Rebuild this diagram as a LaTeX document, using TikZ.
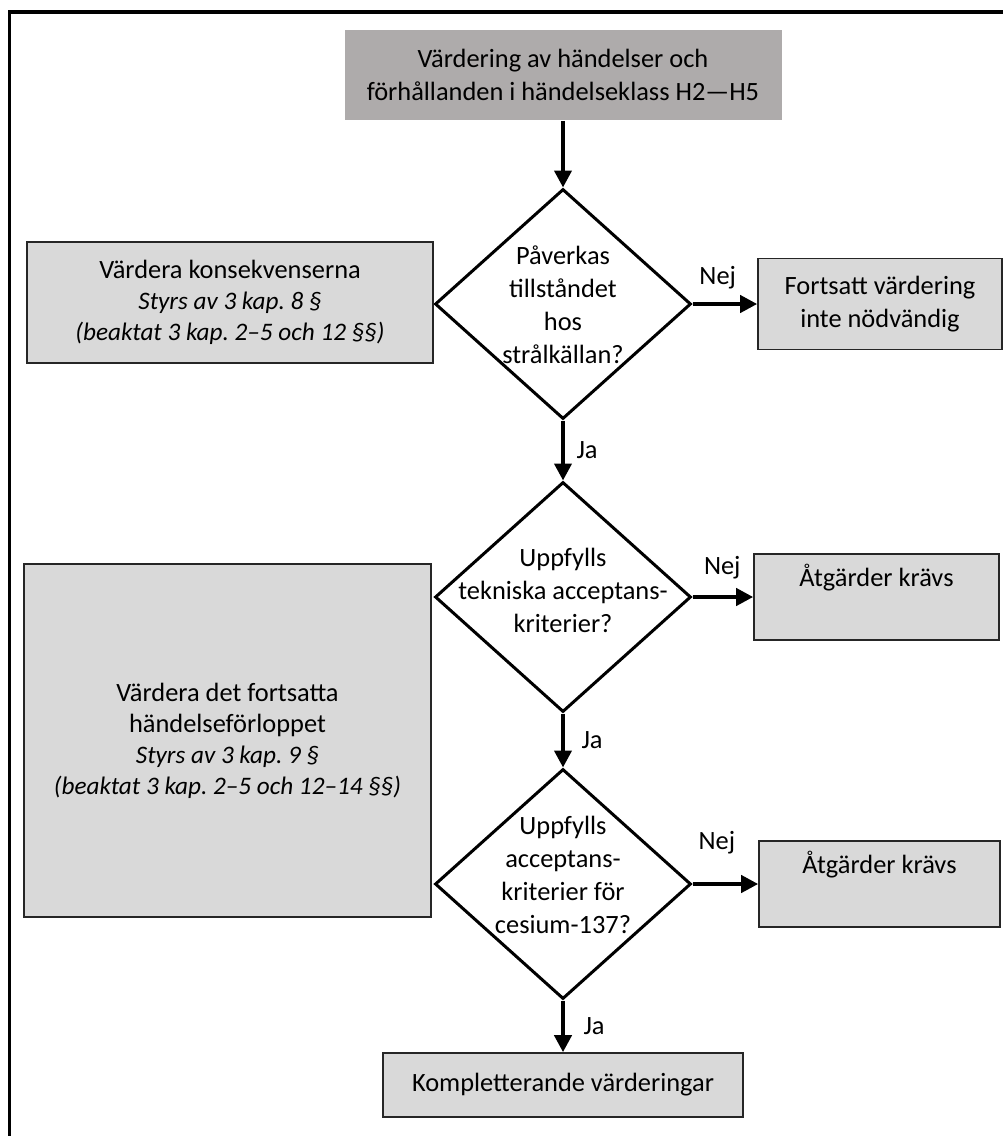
\documentclass[tikz,border=0pt]{standalone}
\usepackage{fontspec}
\setmainfont{Carlito}
\usetikzlibrary{shapes.geometric,arrows.meta}

\definecolor{boxgray}{HTML}{D9D9D9}
\definecolor{headgray}{HTML}{AEABAB}

\newcommand{\lagrum}[1]{{\fontsize{12.6}{15.5}\selectfont\itshape #1}}

\begin{document}
\frenchspacing
\begin{tikzpicture}[x=0.5pt, y=-0.5pt, line join=miter,
    every node/.style={font=\fontsize{13.2}{16.5}\selectfont},
    box/.style={rectangle, draw=black!85, line width=0.8pt, fill=boxgray, align=center, inner sep=0pt},
    lagbox/.style={box, font=\fontsize{13.2}{15.5}\selectfont},
    fraga/.style={diamond, draw=black, line width=1.5pt, fill=white, minimum width=128pt, minimum height=115pt, inner sep=0pt},
    fragetext/.style={align=center, inner sep=0pt},
    pil/.style={line width=2pt, -{Triangle[length=8.5pt, width=8.5pt]}},
    svar/.style={inner sep=1pt}]

    \useasboundingbox (0,0) rectangle (1003,1136);

    % Ram
    \draw[line width=1.6pt] (9.5,1136) -- (9.5,12) -- (1003,12);

    % Start
    \node[box, fill=headgray, draw=none, minimum width=218.5pt, minimum height=45pt] (start) at (563,75)
        {Värdering av händelser och\\förhållanden i händelseklass H2—H5};

    % Frågor
    \node[fraga] (q1) at (563,304) {};
    \node[fragetext] (q1text) at (563,305) {Påverkas\\tillståndet\\hos\\strålkällan?};
    \node[fraga] (q2) at (563,597) {};
    \node[fragetext] (q2text) at (563,590) {Uppfylls\\tekniska acceptans-\\kriterier?};
    \node[fraga] (q3) at (563,884) {};
    \node[fragetext] (q3text) at (563,875) {Uppfylls\\acceptans-\\kriterier för\\cesium-137?};

    % Vänster: värderingar
    \node[lagbox, minimum width=203pt, minimum height=60.5pt] (konsekvens) at (230,302.5)
        {Värdera konsekvenserna\\\lagrum{Styrs av 3 kap. 8 §}\\\lagrum{(beaktat 3 kap. 2–5 och 12 §§)}};
    \node[lagbox, minimum width=203.5pt, minimum height=176.5pt] (forlopp) at (227.5,740.5)
        {Värdera det fortsatta\\händelseförloppet\\\lagrum{Styrs av 3 kap. 9 §}\\\lagrum{(beaktat 3 kap. 2–5 och 12–14 §§)}};

    % Höger: utfall
    \node[box, minimum width=122pt, minimum height=45.5pt] (ejnodvandig) at (880,304)
        {Fortsatt värdering\\inte nödvändig};
    \node[box, minimum width=122.5pt, minimum height=43pt] (atgard1) at (876.5,597)
        {Åtgärder krävs\\\strut};
    \node[box, minimum width=120.5pt, minimum height=43pt] (atgard2) at (879.5,884)
        {Åtgärder krävs\\\strut};

    % Slut
    \node[box, minimum width=180pt, minimum height=32pt] (komplettera) at (563,1085)
        {Kompletterande värderingar};

    % Pilar
    \draw[pil] (start.south) -- (q1.north);
    \draw[pil] (q1.south) -- node[svar, right=4.75pt] {Ja} (q2.north);
    \draw[pil] (q2.south) -- node[svar, right=7.25pt] {Ja} (q3.north);
    \draw[pil] (q3.south) -- node[svar, right=8.25pt] {Ja} (komplettera.north);

    \draw[pil] (q1.east) -- node[svar, above=5.5pt, pos=0.39] {Nej} (ejnodvandig.west);
    \draw[pil] (q2.east) -- node[svar, above=7pt, pos=0.49] {Nej} (atgard1.west);
    \draw[pil] (q3.east) -- node[svar, above=13pt, pos=0.37] {Nej} (atgard2.west);

\end{tikzpicture}
\end{document}
